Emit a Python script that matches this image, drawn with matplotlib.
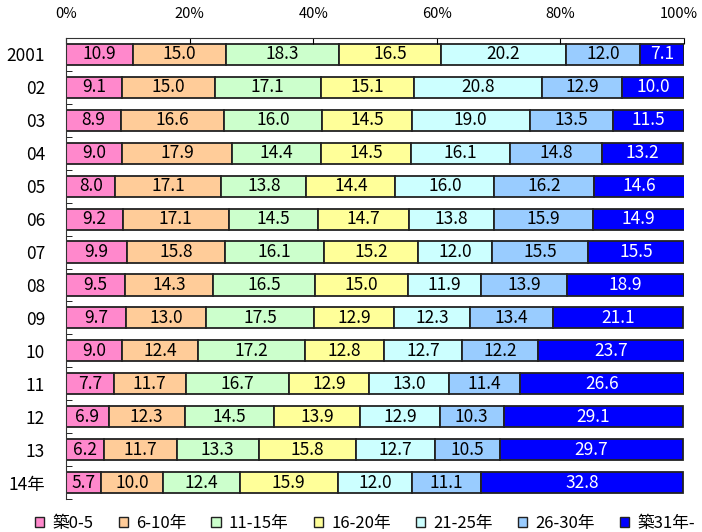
import numpy as np
import matplotlib.pyplot as plt
import matplotlib.transforms as mtransforms
from matplotlib.patches import Patch

plt.rcParams['font.family'] = ['Noto Sans CJK JP', 'DejaVu Sans']

years = ['2001', '02', '03', '04', '05', '06', '07', '08', '09', '10', '11', '12', '13', '14年']
categories = ['築0-5', '6-10年', '11-15年', '16-20年', '21-25年', '26-30年', '築31年-']
colors = ['#ff88cc', '#ffcc99', '#ccffcc', '#ffff99', '#ccffff', '#99ccff', '#0000ff']

age_0_5 = [10.9, 9.1, 8.9, 9.0, 8.0, 9.2, 9.9, 9.5, 9.7, 9.0, 7.7, 6.9, 6.2, 5.7]
age_6_10 = [15.0, 15.0, 16.6, 17.9, 17.1, 17.1, 15.8, 14.3, 13.0, 12.4, 11.7, 12.3, 11.7, 10.0]
age_11_15 = [18.3, 17.1, 16.0, 14.4, 13.8, 14.5, 16.1, 16.5, 17.5, 17.2, 16.7, 14.5, 13.3, 12.4]
age_16_20 = [16.5, 15.1, 14.5, 14.5, 14.4, 14.7, 15.2, 15.0, 12.9, 12.8, 12.9, 13.9, 15.8, 15.9]
age_21_25 = [20.2, 20.8, 19.0, 16.1, 16.0, 13.8, 12.0, 11.9, 12.3, 12.7, 13.0, 12.9, 12.7, 12.0]
age_26_30 = [12.0, 12.9, 13.5, 14.8, 16.2, 15.9, 15.5, 13.9, 13.4, 12.2, 11.4, 10.3, 10.5, 11.1]
age_31 = [7.1, 10.0, 11.5, 13.2, 14.6, 14.9, 15.5, 18.9, 21.1, 23.7, 26.6, 29.1, 29.7, 32.8]

series = [age_0_5, age_6_10, age_11_15, age_16_20, age_21_25, age_26_30, age_31]

fig = plt.figure(figsize=(7.02, 5.32), dpi=100)
ax = fig.add_axes([66/702, 1 - 499/532, (684-66)/702, (499-38)/532])

y = np.arange(len(years))
left = np.zeros(len(years))
for vals, col in zip(series, colors):
    vals = np.array(vals)
    ax.barh(y, vals, left=left, height=0.64, color=col, edgecolor='#222222', linewidth=1.3)
    tc = 'white' if col == '#0000ff' else 'black'
    for yi, l, v in zip(y, left, vals):
        ax.text(l + v / 2, yi, f'{v:.1f}', ha='center', va='center', fontsize=12.5, color=tc)
    left += vals

ax.set_xlim(0, 100)
ax.set_ylim(len(years) - 0.5, -0.5)
ax.xaxis.tick_top()
ax.set_xticks([0, 20, 40, 60, 80, 100])
ax.set_xticklabels(['0%', '20%', '40%', '60%', '80%', '100%'], fontsize=10.5)
ax.tick_params(axis='x', direction='in', length=4, pad=12)
# keep "100%" inside the figure
lbl = ax.get_xticklabels()[-1]
lbl.set_transform(lbl.get_transform() + mtransforms.ScaledTranslation(-4/72, 0, fig.dpi_scale_trans))
ax.set_yticks(y)
ax.set_yticklabels(years, fontsize=12.5)
ax.tick_params(axis='y', length=0, pad=15)
ax.set_yticks(np.arange(len(years)) + 0.5, minor=True)
ax.tick_params(axis='y', which='minor', direction='in', length=4)
ax.spines['right'].set_visible(False)
ax.spines['bottom'].set_visible(False)
for s in ['left', 'top']:
    ax.spines[s].set_color('#333333')

handles = [Patch(facecolor=c, edgecolor='#222222', linewidth=1) for c in colors]
fig.legend(handles, categories, loc='lower center', bbox_to_anchor=(0.52, -0.028), ncol=7,
           frameon=False, fontsize=12, handlelength=0.55, handleheight=0.55,
           handletextpad=0.5, columnspacing=1.5)

fig.savefig('out.png', dpi=100)
